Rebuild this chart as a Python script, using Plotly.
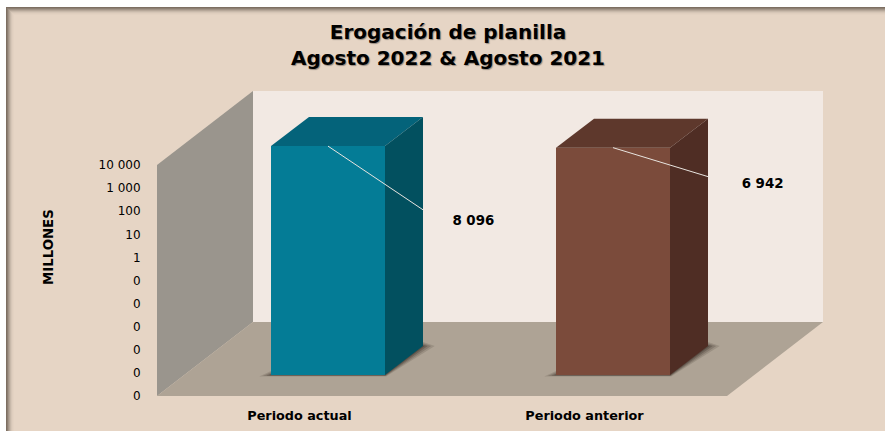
import math
import plotly.graph_objects as go

# ---- data ----
categories = ["Periodo actual", "Periodo anterior"]
values = [8096, 6942]
value_labels = ["8 096", "6 942"]
tick_exponents = [-6, -5, -4, -3, -2, -1, 0, 1, 2, 3, 4]
tick_labels = ["0", "0", "0", "0", "0", "0", "1", "10", "100", "1 000", "10 000"]
front_colors = ["#047c96", "#7b4b3b"]
top_colors = ["#04637a", "#5e382c"]
side_colors = ["#02505f", "#4f2d24"]

# ---- chart geometry (axis units: x = category widths, y = decades) ----
W, H = 885, 431
L, R, B, T = 157, 823, 396, 91
PX_X, PX_Y = 285.0, 23.1
Y0 = -6
Y_TOP = Y0 + (B - T) / PX_Y
X_TOP = (R - L) / PX_X
WALL_DX, WALL_DY = 96 / PX_X, 74 / PX_Y
BAR_W, SHIFT_X, SHIFT_Y = 0.4, 0.1, 21 / PX_Y
DEPTH_X, DEPTH_Y = 38 / PX_X, 29 / PX_Y
LEADER_END = [(0.335, -2.77), (0.335, -1.26)]   # leader length from front-top centre
LABEL_GAP = [(0.175, -0.52), (0.19, -0.35)]     # label centre from leader end


def pts(seq):
    return [p[0] for p in seq], [10 ** p[1] for p in seq]


fig = go.Figure()


def poly(seq, color, opacity=1.0):
    xs, ys = pts(seq + seq[:1])
    fig.add_trace(go.Scatter(x=xs, y=ys, mode="lines", fill="toself", fillcolor=color,
                             line=dict(width=0), opacity=opacity, hoverinfo="skip",
                             showlegend=False))


# walls
poly([(0, Y0), (0, 4), (WALL_DX, Y_TOP), (WALL_DX, Y0 + WALL_DY)], "#9a958d")
poly([(WALL_DX, Y0 + WALL_DY), (WALL_DX, Y_TOP), (X_TOP, Y_TOP), (X_TOP, Y0 + WALL_DY)], "#f2e9e3")
poly([(0, Y0), (2, Y0), (X_TOP, Y0 + WALL_DY), (WALL_DX, Y0 + WALL_DY)], "#aea395")

base = Y0 + SHIFT_Y
for i, v in enumerate(values):
    xl = i + 0.5 + SHIFT_X - BAR_W / 2
    xr = xl + BAR_W
    top = math.log10(v) + SHIFT_Y
    # soft contact shadow
    for grow, op in ((1.0, 0.16), (0.7, 0.22), (0.4, 0.30), (0.15, 0.40)):
        ex, ey = 32 * grow / PX_X / 3, 12 * grow / PX_Y / 3
        poly([(xl - ex * 1.1, base - ey * 0.4), (xr + ex * 0.1, base - ey * 0.4),
              (xr + DEPTH_X + ex * 1.1, base + DEPTH_Y), (xr + DEPTH_X, base + DEPTH_Y + ey),
              (xr, base + ey), (xl, base + ey)], "#3a3028", op)
    poly([(xl, base), (xr, base), (xr, top), (xl, top)], front_colors[i])
    poly([(xl, top), (xr, top), (xr + DEPTH_X, top + DEPTH_Y), (xl + DEPTH_X, top + DEPTH_Y)], top_colors[i])
    poly([(xr, base), (xr + DEPTH_X, base + DEPTH_Y), (xr + DEPTH_X, top + DEPTH_Y), (xr, top)], side_colors[i])
    # leader line + data label
    cx = (xl + xr) / 2
    ex, ey = cx + LEADER_END[i][0], top + LEADER_END[i][1]
    xs, ys = pts([(cx, top), (ex, ey)])
    fig.add_trace(go.Scatter(x=xs, y=ys, mode="lines", line=dict(color="#e8e4df", width=1),
                             hoverinfo="skip", showlegend=False))
    xs, ys = pts([(ex + LABEL_GAP[i][0], ey + LABEL_GAP[i][1])])
    fig.add_trace(go.Scatter(x=xs, y=ys, mode="text", text=[value_labels[i]],
                             textposition="middle center",
                             textfont=dict(family="DejaVu Sans", size=13.4, color="#000000",
                                           weight="bold"),
                             hoverinfo="skip", showlegend=False))

# page frame
BG = "#e6d5c5"
shapes = [dict(type="rect", xref="paper", yref="paper", x0=6 / W, x1=1, y0=0, y1=1 - 7 / H,
               fillcolor=BG, line_width=0, layer="below")]
band = ["#7d6f62", "#8d7f72", "#a29487", "#b6a799", "#c8b9aa", "#d6c6b7", "#dfcebe", "#e3d2c2"]
for k, c in enumerate(band):
    shapes.append(dict(type="rect", xref="paper", yref="paper", x0=(6 + k) / W, x1=1,
                       y0=1 - (8 + k) / H, y1=1 - (7 + k) / H,
                       fillcolor=c, line_width=0, layer="below"))
    shapes.append(dict(type="rect", xref="paper", yref="paper", x0=(6 + k) / W, x1=(7 + k) / W,
                       y0=0, y1=1 - (7 + k) / H,
                       fillcolor=c, line_width=0, layer="below"))

fig.update_layout(
    width=W, height=H, margin=dict(l=0, r=0, t=0, b=0),
    paper_bgcolor="#ffffff", plot_bgcolor="rgba(0,0,0,0)",
    showlegend=False, shapes=shapes,
    font=dict(family="DejaVu Sans", color="#000000"),
    title=dict(text="<b>Erogación de planilla<br>Agosto 2022 & Agosto 2021</b>",
               x=448 / W, xanchor="center", y=1 - 39 / H, yanchor="middle",
               font=dict(family="DejaVu Sans", size=20, color="#000000",
                         shadow="1px 1px 1px rgba(0,0,0,0.35)")),
    xaxis=dict(domain=[L / W, R / W], range=[0, X_TOP], tickmode="array", automargin=False,
               tickvals=[i + 0.5 for i in range(len(categories))], ticktext=categories,
               showgrid=False, zeroline=False, showline=False, ticks="outside", ticklen=8,
               tickcolor="rgba(0,0,0,0)",
               tickfont=dict(family="DejaVu Sans", size=12.8, color="#000000", weight="bold")),
    yaxis=dict(domain=[(H - B) / H, (H - T) / H], type="log", range=[Y0, Y_TOP], tickmode="array",
               automargin=False,
               tickvals=[10 ** e for e in tick_exponents], ticktext=tick_labels,
               showgrid=False, zeroline=False, showline=False, ticks="outside", ticklen=13,
               tickcolor="rgba(0,0,0,0)",
               tickfont=dict(family="DejaVu Sans", size=12, color="#000000")),
    annotations=[dict(text="<b>MILLONES</b>", xref="paper", yref="paper", x=48 / W, y=1 - 247 / H,
                      xanchor="center", yanchor="middle",
                      showarrow=False, textangle=-90,
                      font=dict(family="DejaVu Sans", size=13.3, color="#000000"))],
)
fig.write_html("out.html", config=dict(displayModeBar=False),
               post_script="document.body.style.margin='0';")
